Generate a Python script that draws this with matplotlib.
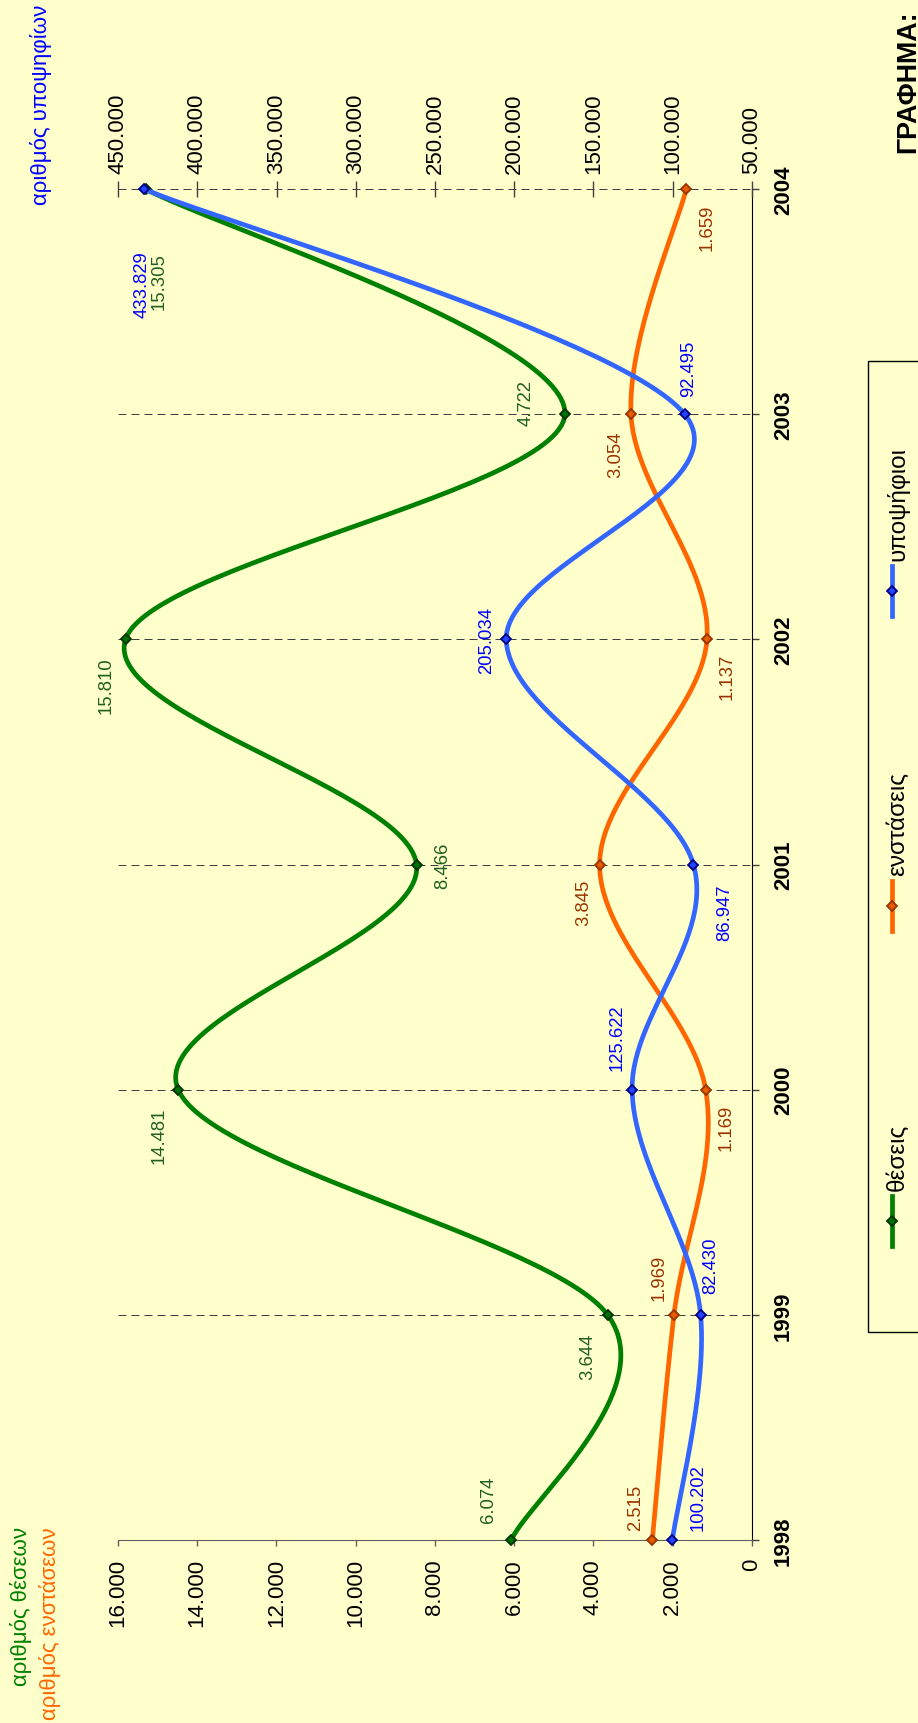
import matplotlib
matplotlib.use("Agg")
import matplotlib.pyplot as plt
import numpy as np
from matplotlib.lines import Line2D
from matplotlib.patches import Rectangle

plt.rcParams['font.family'] = ['Liberation Sans', 'DejaVu Sans']

# data
years = [1998, 1999, 2000, 2001, 2002, 2003, 2004]
theseis = [6074, 3644, 14481, 8466, 15810, 4722, 15305]
enstaseis = [2515, 1969, 1169, 3845, 1137, 3054, 1659]
ypopsifioi = [100202, 82430, 125622, 86947, 205034, 92495, 433829]

left_ticks = [0, 2000, 4000, 6000, 8000, 10000, 12000, 14000, 16000]
right_ticks = [50000, 100000, 150000, 200000, 250000, 300000, 350000, 400000, 450000]

series_names = ['θέσεις', 'ενστάσεις', 'υποψήφιοι']

# label offsets (pixels, portrait image: +x right, +y down)
off_theseis = [(-23, -41), (-20, 41), (-19, 45), (26, 0), (-19, 45), (-39, -12), (14, 92)]
off_enstaseis = [(-17, -33), (-15, -38), (20, 37), (-16, 37), (20, 37), (-15, 40), (21, 38)]
off_ypopsifioi = [(26, -43), (10, -50), (-15, -53), (31, 47), (-20, 0), (4, -46), (-2, 95)]

BG = '#FFFFCC'
W, H = 918, 1724
AX_L, AX_R, AX_T, AX_B = 118, 752, 190, 1541
PX = 72 / 100.0


def fmt(v):
    return f"{v:,}".replace(',', '.')


def smooth(vals, lo, hi, n=60):
    """Excel-like smoothed curve, computed in screen proportions."""
    u = (np.asarray(vals, float) - lo) / (hi - lo) * (AX_R - AX_L)
    v = (np.asarray(years, float) - years[0]) / (years[-1] - years[0]) * (AX_B - AX_T)
    pts = np.column_stack([u, v])
    P = np.vstack([pts[0], pts, pts[-1]])
    t = np.linspace(0, 1, n)[:, None]
    out = []
    for i in range(1, len(P) - 2):
        p0, p1, p2, p3 = P[i - 1], P[i], P[i + 1], P[i + 2]
        c1 = p1 + (p2 - p0) / 6
        c2 = p2 - (p3 - p1) / 6
        seg = (1 - t) ** 3 * p1 + 3 * (1 - t) ** 2 * t * c1 + 3 * (1 - t) * t ** 2 * c2 + t ** 3 * p2
        out.append(seg if i == 1 else seg[1:])
    seg = np.vstack(out)
    xs = lo + seg[:, 0] / (AX_R - AX_L) * (hi - lo)
    ys = years[0] + seg[:, 1] / (AX_B - AX_T) * (years[-1] - years[0])
    return xs, ys


fig = plt.figure(figsize=(W / 100, H / 100), dpi=100, facecolor=BG)
ax = fig.add_axes([AX_L / W, 1 - AX_B / H, (AX_R - AX_L) / W, (AX_B - AX_T) / H])
ax.set_facecolor(BG)
ax2 = ax.twiny()

ax.set_xlim(16000, 0)
ax2.set_xlim(450000, 50000)
ax.set_ylim(years[0], years[-1])

# axes styling
for s in ['left', 'top']:
    ax.spines[s].set_visible(False)
ax.spines['right'].set_color('black')
ax.spines['bottom'].set_color('#606060')
for s in ax2.spines.values():
    s.set_visible(False)

ax.yaxis.tick_right()
ax.set_yticks(years)
ax.set_yticklabels([str(y) for y in years], fontweight='bold', va='center')
ax.tick_params(axis='y', direction='out', length=5, width=1, color='#404040',
               pad=10, labelsize=16, labelrotation=90)
ax.yaxis.grid(True, color='#404040', linewidth=0.72, linestyle=(0, (8, 5)))
ax.set_axisbelow(True)

ax.set_xticks(left_ticks)
ax.set_xticklabels([fmt(v) for v in left_ticks])
ax.tick_params(axis='x', direction='out', length=4.3, width=1, color='#606060',
               pad=8.6, labelsize=16, labelrotation=90)

ax2.set_xticks(right_ticks)
ax2.set_xticklabels([fmt(v) for v in right_ticks])
ax2.tick_params(axis='x', direction='inout', length=11, width=1, color='#404040',
                pad=5.8, labelsize=16, labelrotation=90)

styles = [
    (ax, theseis, 0, 16000, '#008000', '#007000', '#003300', '#215E21', off_theseis),
    (ax, enstaseis, 0, 16000, '#FF6600', '#E65C00', '#993300', '#993300', off_enstaseis),
    (ax2, ypopsifioi, 50000, 450000, '#3366FF', '#2244FF', '#000080', '#0000FF', off_ypopsifioi),
]

for a, vals, lo, hi, lc, mfc, mec, tc, offs in styles:
    xs, ys = smooth(vals, lo, hi)
    a.plot(xs, ys, color=lc, linewidth=3.4, clip_on=False, zorder=3,
           solid_capstyle='round')
    a.plot(vals, years, linestyle='none', marker='D', markersize=5.2,
           markerfacecolor=mfc, markeredgecolor=mec, markeredgewidth=1.3,
           clip_on=False, zorder=4)
    for v, y, (dx, dy) in zip(vals, years, offs):
        a.annotate(fmt(v), (v, y), xytext=(dx * PX, -dy * PX), textcoords='offset points',
                   rotation=90, ha='center', va='center', fontsize=13.3, color=tc,
                   annotation_clip=False, zorder=5)


def fx(x):
    return x / W


def fy(y):
    return 1 - y / H


# axis titles
fig.text(fx(21.5), fy(1527), 'αριθμός θέσεων', color='#008000', fontsize=16,
         rotation=90, ha='center', va='top')
fig.text(fx(50), fy(1527), 'αριθμός ενστάσεων', color='#FF6600', fontsize=16,
         rotation=90, ha='center', va='top')
fig.text(fx(41), fy(5), 'αριθμός υποψηφίων', color='#0000FF', fontsize=16,
         rotation=90, ha='center', va='top')

# chart title (partly cut off at the right edge)
fig.text(fx(908), fy(10), 'ΓΡΑΦΗΜΑ:', color='black', fontsize=19.4, fontweight='bold',
         rotation=90, ha='center', va='top')

# legend, drawn rotated like the rest of the chart
fig.add_artist(Rectangle((fx(868), fy(1333)), fx(70), (1333 - 362) / H,
                         transform=fig.transFigure, facecolor='none',
                         edgecolor='black', linewidth=1, clip_on=False))
leg_centres = [1222, 907, 592]
for name, (a, vals, lo, hi, lc, mfc, mec, tc, offs), yc in zip(series_names, styles, leg_centres):
    fig.add_artist(Line2D([fx(892), fx(892)], [fy(yc + 25), fy(yc - 25)],
                          transform=fig.transFigure, color=lc, linewidth=3.4))
    fig.add_artist(Line2D([fx(892)], [fy(yc)], transform=fig.transFigure,
                          linestyle='none', marker='D', markersize=5.2,
                          markerfacecolor=mfc, markeredgecolor=mec, markeredgewidth=1.3))
    fig.text(fx(904), fy(yc - 31), name, color='black', fontsize=17.5,
             rotation=90, rotation_mode='anchor', ha='left', va='baseline')

fig.savefig('out.png', dpi=100, facecolor=BG)
